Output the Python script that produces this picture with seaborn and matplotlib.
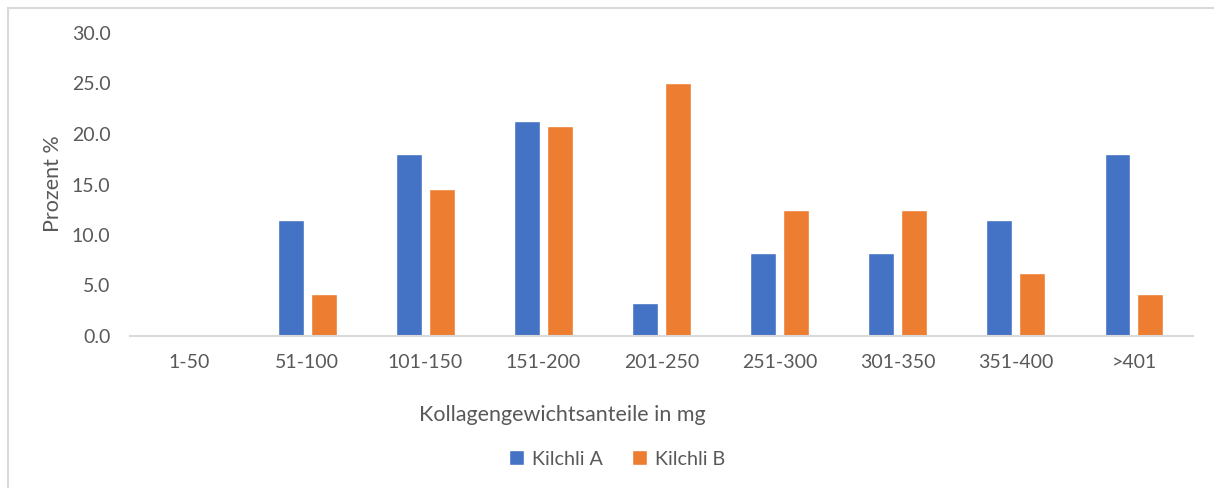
import numpy as np
import pandas as pd
import matplotlib
matplotlib.use("Agg")
import matplotlib.pyplot as plt
import seaborn as sns
from matplotlib.patches import Rectangle
from matplotlib.ticker import FormatStrFormatter

# Kollagengewichtsanteile (mg) classes and percentages per site
categories = ["1-50", "51-100", "101-150", "151-200", "201-250",
              "251-300", "301-350", "351-400", ">401"]
kilchli_a = [0.0, 11.5, 18.0, 21.3, 3.3, 8.2, 8.2, 11.5, 18.0]
kilchli_b = [0.0, 4.2, 14.6, 20.8, 25.0, 12.5, 12.5, 6.25, 4.2]
series_names = ["Kilchli A", "Kilchli B"]
y_ticks = [0, 5, 10, 15, 20, 25, 30]

df = pd.DataFrame({
    "Klasse": categories * 2,
    "Prozent": kilchli_a + kilchli_b,
    "Serie": [series_names[0]] * len(categories) + [series_names[1]] * len(categories),
})

sns.set_style("white")
plt.rcParams["font.family"] = ["Lato", "DejaVu Sans"]
text_grey = "#595959"

fig = plt.figure(figsize=(12.14, 4.88), dpi=100)
ax = fig.add_axes([130 / 1214, 1 - 336 / 488, (1193 - 130) / 1214, (336 - 33) / 488])

sns.barplot(data=df, x="Klasse", y="Prozent", hue="Serie", order=categories,
            hue_order=series_names, palette=["#4472C4", "#ED7D31"],
            width=0.556, gap=0.21, ax=ax, legend=True, saturation=1)

ax.set_ylim(0, 30)
ax.set_xlim(-0.5, len(categories) - 0.5)
ax.set_yticks(y_ticks)
ax.yaxis.set_major_formatter(FormatStrFormatter("%.1f"))
ax.tick_params(axis="both", length=0, labelsize=14, colors=text_grey)
ax.tick_params(axis="y", pad=14)
ax.tick_params(axis="x", pad=13)
for side in ["top", "right", "left"]:
    ax.spines[side].set_visible(False)
ax.spines["bottom"].set_color("#d9d9d9")
ax.spines["bottom"].set_linewidth(1.5)

ax.set_xlabel("Kollagengewichtsanteile in mg", fontsize=15.5, color=text_grey)
ax.xaxis.set_label_coords(0.407, -0.261)
ax.xaxis.label.set_va("center")
ax.set_ylabel("Prozent %", fontsize=15.5, color=text_grey)
ax.yaxis.set_label_coords(-0.0724, 0.503)
ax.yaxis.label.set_va("center")

ax.legend(loc="center", bbox_to_anchor=(617 / 1214, 1 - 459 / 488),
          bbox_transform=fig.transFigure, ncol=2, frameon=False,
          fontsize=14.2, handlelength=0.75, handleheight=0.75,
          handletextpad=0.4, columnspacing=1.5, labelcolor=text_grey)

# light chart-area border, cut at right and bottom like the screenshot
fig.patches.append(Rectangle((8 / 1214, -0.05), 1.2, 1 - 8 / 488 + 0.05,
                             transform=fig.transFigure, fill=False,
                             edgecolor="#d9d9d9", linewidth=1.5))

fig.savefig("out.png", dpi=100)
